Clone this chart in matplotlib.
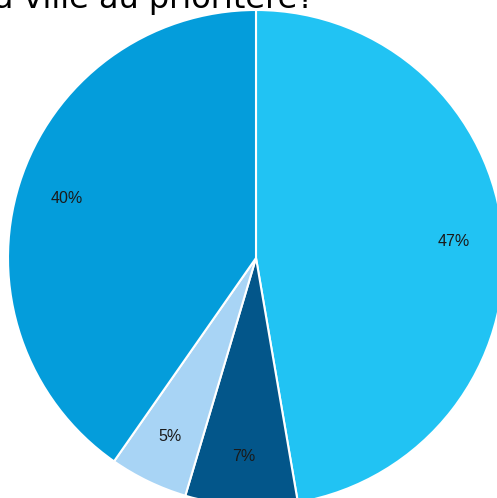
import matplotlib
matplotlib.use("Agg")
import matplotlib.pyplot as plt

categories = ["A", "B", "C", "D"]
values = [47.3, 7.3, 5.1, 40.3]
colors = ["#21C3F3", "#03568A", "#A8D4F5", "#049DDB"]
title = "Quel quartier de la ville au prioritere?"

fig = plt.figure(figsize=(4.97, 4.98), dpi=100)
ax = fig.add_axes([0, 0, 1, 1])
wedges, texts, autotexts = ax.pie(
    values, colors=colors, startangle=90, counterclock=False,
    autopct=lambda p: f"{p:.0f}%", pctdistance=0.8, radius=1.0,
    wedgeprops=dict(edgecolor="white", linewidth=1.5),
    textprops=dict(fontsize=11.5, color="#1a1a1a", family="Liberation Sans"),
)
ax.set_xlim(-256 / 248, 241 / 248)
ax.set_ylim(-240 / 248, 258 / 248)
ax.set_aspect("equal")
ax.axis("off")
fig.text(314 / 497, 1 - 8 / 498, title, ha="right", va="baseline",
         fontsize=23, family="DejaVu Sans", color="black")
fig.savefig("out.png", dpi=100)
